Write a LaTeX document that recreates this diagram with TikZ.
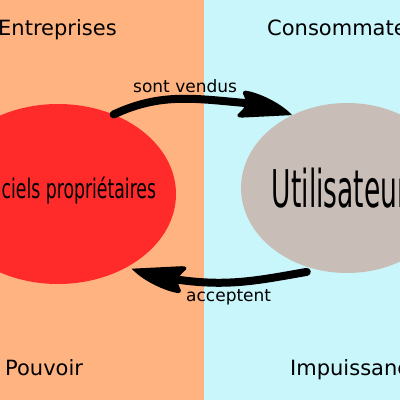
\documentclass[tikz,border=0pt]{standalone}
\usepackage{fontspec}
\setmainfont{DejaVu Sans}
\usetikzlibrary{shapes.geometric}
\definecolor{orangebg}{HTML}{FFB380}
\definecolor{cyanbg}{HTML}{C9F6FB}
\definecolor{redell}{HTML}{FF2A2A}
\definecolor{greyell}{HTML}{C8BEB7}
\begin{document}
\begin{tikzpicture}[x=1pt,y=1pt,
  blob/.style={ellipse, inner sep=0pt, draw=none},
  biglabel/.style={font=\fontsize{21}{21}\selectfont, inner sep=0pt, anchor=base west},
  smalllabel/.style={font=\fontsize{17}{17}\selectfont, inner sep=0pt, anchor=base west},
  flow/.style={line width=8pt, line cap=round},
  flowhead/.pic={
    \fill (0,0) -- (-50,-2.5)
      .. controls (-55,-2.8) and (-56.5,0) .. (-52,3)
      .. controls (-46,8) and (-45,14) .. (-48,19)
      .. controls (-51,23) and (-48,25.5) .. (-44,24)
      .. controls (-30,21) and (-10,11) .. (0,0) -- cycle;
  }]
\useasboundingbox (0,0) rectangle (400,400);
\clip (0,0) rectangle (400,400);
\fill[orangebg] (0,0) rectangle (204,400);
\fill[cyanbg] (204,0) rectangle (400,400);
\node[blob, fill=redell, minimum width=236pt, minimum height=180pt, text height=13pt, text depth=4pt] (logiciels) at (58,206)
  {\makebox[0pt]{\hspace*{6pt}\scalebox{0.64}[1]{\fontsize{27}{27}\selectfont Logiciels propriétaires}}};
\node[blob, fill=greyell, minimum width=212pt, minimum height=170pt, text height=40pt, text depth=2pt] (utilisateurs) at (347,212)
  {\makebox[0pt]{\scalebox{0.51}[1]{\fontsize{52}{52}\selectfont Utilisateurs}}};
\node[biglabel] (entreprises) at (-2,364) {Entreprises};
\node[biglabel] (consommateurs) at (267,364) {Consommateurs};
\node[biglabel] (pouvoir) at (5,24) {Pouvoir};
\node[biglabel] (impuissance) at (290,24) {Impuissance};
\node[smalllabel] (vendus) at (133,307) {sont vendus};
\node[smalllabel] (acceptent) at (186,98) {acceptent};
% top connector: logiciels -> utilisateurs
\coordinate (toptip) at (utilisateurs.127.5);
\coordinate (topjoin) at ([shift={(-46,12)}]toptip);
\draw[flow] (logiciels.55) to[out=25,in=175] (topjoin);
\path (toptip) pic {flowhead};
% bottom connector: utilisateurs -> logiciels
\coordinate (bottip) at ([shift={(2,-3)}]logiciels.315);
\coordinate (botjoin) at ([shift={(46,-11)}]bottip);
\draw[flow] ([yshift=-5pt]utilisateurs.243) to[out=190,in=352] (botjoin);
\path (bottip) pic[rotate=180] {flowhead};
\end{tikzpicture}
\end{document}
